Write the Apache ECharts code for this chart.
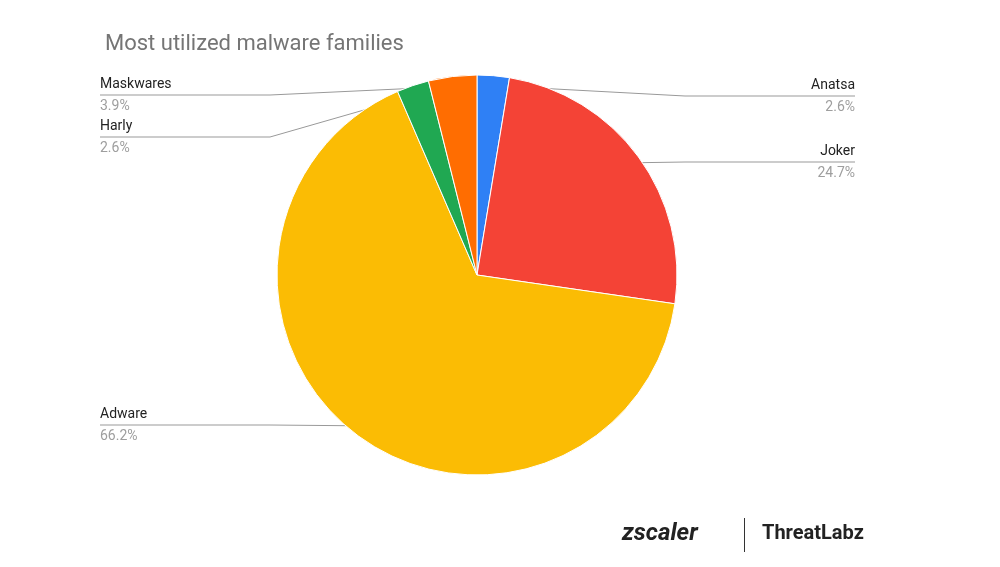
<!DOCTYPE html>
<html><head><meta charset="utf-8">
<script src="https://cdn.jsdelivr.net/npm/echarts@6/dist/echarts.min.js"></script>
<style>html,body{margin:0;background:#fff}#c{width:1000px;height:567px}</style>
</head><body><div id="c"></div>
<script>
const names = ['Anatsa','Joker','Adware','Harly','Maskwares'];
const values = [2.6,24.7,66.2,2.6,3.9];
const colors = ['#2F80F5','#F44336','#FBBC04','#20A852','#FF6D01'];
const labelY = [96,162,425,137,95];
const chart = echarts.init(document.getElementById('c'));
chart.setOption({
  title:{text:'Most utilized malware families',left:100,top:28,textStyle:{color:'#757575',fontSize:22,fontWeight:'normal',fontFamily:'Roboto'}},
  graphic:[
    {type:'text',left:622,top:522,style:{text:'zscaler',font:'bold italic 24px Roboto',fill:'#222'}},
    {type:'rect',left:744,top:518,shape:{width:1,height:34},style:{fill:'#333'}},
    {type:'text',left:762,top:524,style:{text:'ThreatLabz',font:'bold 20px Roboto',fill:'#222'}}
  ],
  series:[{
    type:'pie',center:[477,275],radius:200,startAngle:90,clockwise:true,
    data:names.map((n,i)=>({name:n,value:values[i],itemStyle:{color:colors[i]}})),
    itemStyle:{borderColor:'#fff',borderWidth:1},
    label:{formatter:p=>'{n|'+p.name+'}\n{v|'+p.value.toFixed(1)+'%}',
      rich:{n:{fontSize:14,color:'#222',fontFamily:'Roboto',lineHeight:22},v:{fontSize:14,color:'#9e9e9e',fontFamily:'Roboto',lineHeight:22}}},
    labelLine:{show:true,lineStyle:{color:'#999',width:1}},
    labelLayout:function(p){
      const i=p.dataIndex; const y=labelY[i];
      const pts=p.labelLinePoints; const p0=pts[0];
      const left=p0[0]<477;
      const ang=Math.atan2(p0[1]-275,p0[0]-477);
      const s=[477+190*Math.cos(ang),275+190*Math.sin(ang)];
      const elbow = left? Math.min(s[0]-10,270): Math.max(s[0]+10,685);
      return {x:left?100:855,y:y,align:left?'left':'right',verticalAlign:'middle',
        labelLinePoints:[s,[elbow,y],[left?100:855,y]]};
    },
    emphasis:{disabled:true}
  }]
});
</script></body></html>
